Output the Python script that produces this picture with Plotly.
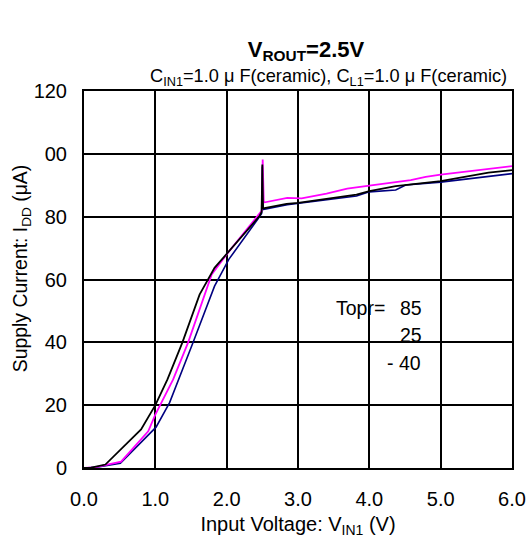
import plotly.graph_objects as go

# Supply current vs input voltage, three temperatures
v_black = [0.0, 0.1, 0.30, 0.80, 1.00, 1.17, 1.38, 1.62, 1.83, 2.46, 2.49, 2.50, 2.51, 2.55, 2.84, 3.00, 3.50, 3.82, 4.00, 4.37, 5.00, 5.67, 6.00]
i_black = [0.0, 0.1, 1.1, 12.3, 20.0, 28.2, 40.0, 55.2, 63.7, 80.2, 81.5, 96.6, 82.6, 82.8, 84.1, 84.4, 86.0, 87.0, 88.1, 89.7, 91.3, 94.0, 94.8]

v_magenta = [0.0, 0.15, 0.52, 0.90, 1.00, 1.25, 1.46, 1.79, 2.00, 2.46, 2.495, 2.505, 2.52, 2.85, 3.05, 3.40, 3.69, 4.00, 4.58, 4.79, 5.00, 6.00]
i_magenta = [0.0, 0.2, 2.0, 11.7, 17.0, 28.2, 40.0, 61.6, 68.0, 80.7, 82.0, 98.2, 84.5, 86.0, 85.8, 87.3, 88.9, 89.9, 91.6, 92.7, 93.4, 96.1]

v_blue = [0.0, 0.2, 0.51, 0.81, 1.01, 1.20, 1.33, 1.53, 1.83, 2.03, 2.46, 2.49, 2.50, 2.51, 2.85, 3.00, 3.82, 4.00, 4.37, 4.51, 5.00, 6.00]
i_blue = [0.0, 0.3, 1.5, 8.5, 13.0, 20.8, 28.2, 40.0, 57.9, 66.4, 80.0, 81.0, 96.0, 82.3, 83.8, 84.2, 86.6, 87.9, 88.5, 90.1, 91.0, 93.7]

y_tickvals = [0, 20, 40, 60, 80, 100, 120]
y_ticktext = ["0", "20", "40", "60", "80", "00", "120"]
x_tickvals = [0, 1, 2, 3, 4, 5, 6]
x_ticktext = ["0.0", "1.0", "2.0", "3.0", "4.0", "5.0", "6.0"]

legend_labels = ["Topr=", "85", "25", "- 40"]
legend_x = [3.87, 4.59, 4.58, 4.49]
legend_y = [50.8, 50.8, 42.2, 33.3]

FONT = "Arial, Liberation Sans, sans-serif"

fig = go.Figure()
fig.add_trace(go.Scatter(x=v_blue, y=i_blue, mode="lines",
                         line=dict(color="#000080", width=1.6), name="blue"))
fig.add_trace(go.Scatter(x=v_magenta, y=i_magenta, mode="lines",
                         line=dict(color="#FF00FF", width=1.8), name="magenta"))
fig.add_trace(go.Scatter(x=v_black, y=i_black, mode="lines",
                         line=dict(color="#000000", width=1.8), name="black"))

for t, x, y in zip(legend_labels, legend_x, legend_y):
    fig.add_annotation(x=x, y=y, xref="x", yref="y", text=t, showarrow=False,
                       font=dict(family=FONT, size=19.5, color="black"),
                       xanchor="center", yanchor="middle")

fig.add_annotation(x=0.994, y=1.035, xref="paper", yref="paper",
                   text="C<sub>IN1</sub>=1.0 μ F(ceramic), C<sub>L1</sub>=1.0 μ F(ceramic)",
                   showarrow=False, xanchor="right", yanchor="middle",
                   font=dict(family=FONT, size=18.2, color="black"))

# y-axis title placed as rotated annotation
fig.add_annotation(x=-0.147, y=0.53, xref="paper", yref="paper",
                   text="Supply Current: I<sub>DD</sub> (μA)", textangle=-90,
                   showarrow=False, xanchor="center", yanchor="middle",
                   font=dict(family=FONT, size=19.4, color="black"))

fig.update_layout(
    width=529, height=540,
    margin=dict(l=84, r=17, t=91, b=72),
    paper_bgcolor="white", plot_bgcolor="white",
    showlegend=False,
    font=dict(family=FONT, size=20, color="black"),
    title=dict(text="<b>V<sub>ROUT</sub>=2.5V</b>", x=306/529, xanchor="center",
               y=1 - 49/540, yanchor="middle", yref="container", xref="container",
               font=dict(family=FONT, size=22, color="black")),
    xaxis=dict(range=[0, 6], tickvals=x_tickvals, ticktext=x_ticktext,
               showgrid=True, gridcolor="black", gridwidth=2,
               showline=True, linecolor="black", linewidth=2, mirror=True,
               zeroline=False, ticks="", ticklabelstandoff=12, automargin=False,
               tickfont=dict(family=FONT, size=20),
               title=dict(text="Input Voltage: V<sub>IN1</sub> (V)", standoff=8,
                          font=dict(family=FONT, size=20))),
    yaxis=dict(range=[0, 120], tickvals=y_tickvals, ticktext=y_ticktext,
               showgrid=True, gridcolor="black", gridwidth=2,
               showline=True, linecolor="black", linewidth=2, mirror=True,
               zeroline=False, ticks="", ticklabelstandoff=11, automargin=False,
               tickfont=dict(family=FONT, size=20)),
)

fig.write_html("out.html", config={"displayModeBar": False},
               post_script="document.body.style.margin='0';")
